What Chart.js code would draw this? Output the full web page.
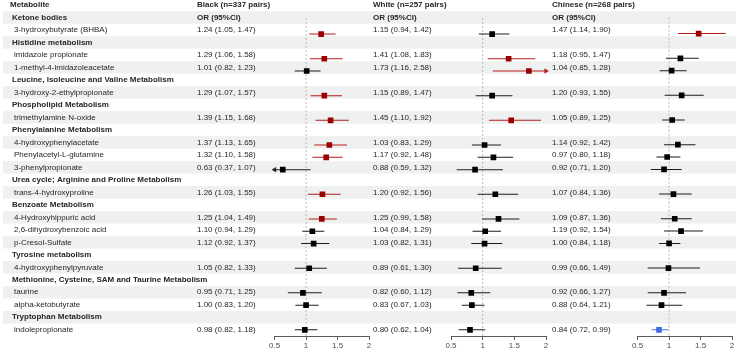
<!DOCTYPE html>
<html>
<head>
<meta charset="utf-8">
<script src="https://cdn.jsdelivr.net/npm/chart.js@4.4.1/dist/chart.umd.min.js"></script>
<style>
html,body{margin:0;padding:0;background:#ffffff;}
#wrap{position:relative;width:736px;height:350px;overflow:hidden;}
#wrap canvas{position:absolute;left:0;top:0;}
</style>
</head>
<body>
<div id="wrap">
  <canvas id="tbl" width="736" height="350" style="width:736px;height:350px"></canvas>
  <canvas id="pB" width="736" height="350" style="width:736px;height:350px"></canvas>
  <canvas id="pW" width="736" height="350" style="width:736px;height:350px"></canvas>
  <canvas id="pC" width="736" height="350" style="width:736px;height:350px"></canvas>
</div>
<script>
// ---------------- DATA ----------------
const rowLabels = [
  'Ketone bodies',
  '3-hydroxybutyrate (BHBA)',
  'Histidine metabolism',
  'imidazole propionate',
  '1-methyl-4-imidazoleacetate',
  'Leucine, Isoleucine and Valine Metabolism',
  '3-hydroxy-2-ethylpropionate',
  'Phospholipid Metabolism',
  'trimethylamine N-oxide',
  'Phenylalanine Metabolism',
  '4-hydroxyphenylacetate',
  'Phenylacetyl-L-glutamine',
  '3-phenylpropionate',
  'Urea cycle; Arginine and Proline Metabolism',
  'trans-4-hydroxyproline',
  'Benzoate Metabolism',
  '4-Hydroxyhippuric acid',
  '2,6-dihydroxybenzoic acid',
  'p-Cresol-Sulfate',
  'Tyrosine metabolism',
  '4-hydroxyphenylpyruvate',
  'Methionine, Cysteine, SAM and Taurine Metabolism',
  'taurine',
  'alpha-ketobutyrate',
  'Tryptophan Metabolism',
  'indolepropionate'
];
const rowIsGroup = [1,0,1,0,0,1,0,1,0,1,0,0,0,1,0,1,0,0,0,1,0,1,0,0,1,0];

const populations = ['Black (n=337 pairs)', 'White (n=257 pairs)', 'Chinese (n=268 pairs)'];
const columnTitle = 'OR (95%CI)';
const firstHeader = 'Metabolite';

const blackOR   = [1.24,1.29,1.01,1.29,1.39,1.37,1.32,0.63,1.26,1.25,1.10,1.12,1.05,0.95,1.00,0.98];
const blackLow  = [1.05,1.06,0.82,1.07,1.15,1.13,1.10,0.37,1.03,1.04,0.94,0.92,0.82,0.71,0.83,0.82];
const blackHigh = [1.47,1.58,1.23,1.57,1.68,1.65,1.58,1.07,1.55,1.49,1.29,1.37,1.33,1.25,1.20,1.18];

const whiteOR   = [1.15,1.41,1.73,1.15,1.45,1.03,1.17,0.88,1.20,1.25,1.04,1.03,0.89,0.82,0.83,0.80];
const whiteLow  = [0.94,1.08,1.16,0.89,1.10,0.83,0.92,0.59,0.92,0.99,0.84,0.82,0.61,0.60,0.67,0.62];
const whiteHigh = [1.42,1.83,2.58,1.47,1.92,1.29,1.48,1.32,1.56,1.58,1.29,1.31,1.30,1.12,1.03,1.04];

const chineseOR   = [1.47,1.18,1.04,1.20,1.05,1.14,0.97,0.92,1.07,1.09,1.19,1.00,0.99,0.92,0.88,0.84];
const chineseLow  = [1.14,0.95,0.85,0.93,0.89,0.92,0.80,0.71,0.84,0.87,0.92,0.84,0.66,0.66,0.64,0.72];
const chineseHigh = [1.90,1.47,1.28,1.55,1.25,1.42,1.18,1.20,1.36,1.36,1.54,1.18,1.49,1.27,1.21,0.99];

const xTicks = [0.5, 1, 1.5, 2];
const refValue = 1;

// ---------------- LAYOUT / STYLE ----------------
const W = 736, H = 350;
const FONT = "'Liberation Sans', Arial, Helvetica, sans-serif";
const AXIS_H = 14;
const Y_MIN = -0.4, Y_MAX = rowLabels.length + 0.5;
const stripeColor = '#eff1f1';
const textColor = '#262626';
const orColX = [197, 373, 552];
const panelPx = [[274.6, 369], [451, 546], [637.6, 732]];
const palette = {
  up:   {pt: '#990000', ln: '#b51c1c'},
  down: {pt: '#4169e1', ln: '#4f74e4'},
  ns:   {pt: '#000000', ln: '#1c1c1c'}
};
const series = [
  [blackOR, blackLow, blackHigh],
  [whiteOR, whiteLow, whiteHigh],
  [chineseOR, chineseLow, chineseHigh]
];

// row index (in the drawn table, 0 = header) of each metabolite
const itemRows = [];
rowIsGroup.forEach((g, i) => { if (!g) itemRows.push(i + 1); });

function sig(lo, hi) { return lo > refValue ? 'up' : (hi < refValue ? 'down' : 'ns'); }
function fmt(o, l, h) { return o.toFixed(2) + ' (' + l.toFixed(2) + ', ' + h.toFixed(2) + ')'; }

function yScaleCfg() {
  return {type: 'linear', display: false, min: Y_MIN, max: Y_MAX, reverse: true, offset: false,
          grace: 0, grid: {offset: false}};
}

// ---------------- TABLE CHART (stripes + text) ----------------
const tablePlugin = {
  id: 'tablePlugin',
  beforeDraw(chart) {
    const ctx = chart.ctx, ys = chart.scales.y;
    ctx.save();
    ctx.fillStyle = stripeColor;
    for (let r = 1; r <= rowLabels.length; r += 2) {
      const t = ys.getPixelForValue(r - 0.5), b = ys.getPixelForValue(r + 0.5);
      ctx.fillRect(3, t, W - 3, b - t);
    }
    ctx.restore();
  },
  afterDraw(chart) {
    const ctx = chart.ctx, ys = chart.scales.y;
    ctx.save();
    ctx.textBaseline = 'middle';
    ctx.textAlign = 'left';
    ctx.fillStyle = textColor;
    const bold = 'bold 8px ' + FONT, normal = '8px ' + FONT;
    ctx.font = bold;
    const y0 = ys.getPixelForValue(0);
    ctx.fillText(firstHeader, 10, y0);
    populations.forEach((p, k) => ctx.fillText(p, orColX[k], y0));
    const y1 = ys.getPixelForValue(1);
    orColX.forEach(x => ctx.fillText(columnTitle, x, y1));
    rowLabels.forEach((lab, i) => {
      const yy = ys.getPixelForValue(i + 1);
      if (rowIsGroup[i]) { ctx.font = bold; ctx.fillText(lab, 12, yy); }
      else { ctx.font = normal; ctx.fillText(lab, 14, yy); }
    });
    ctx.font = normal;
    series.forEach((s, k) => {
      itemRows.forEach((r, j) => {
        ctx.fillText(fmt(s[0][j], s[1][j], s[2][j]), orColX[k], ys.getPixelForValue(r));
      });
    });
    ctx.restore();
  }
};

new Chart(document.getElementById('tbl'), {
  type: 'scatter',
  data: {datasets: []},
  options: {
    responsive: false, animation: false, devicePixelRatio: 1,
    layout: {padding: {left: 0, right: 0, top: 0, bottom: AXIS_H}},
    plugins: {legend: {display: false}, tooltip: {enabled: false}},
    scales: {
      x: {type: 'linear', display: false, min: 0, max: 1},
      y: yScaleCfg()
    }
  },
  plugins: [tablePlugin]
});

// ---------------- PANEL CHARTS ----------------
function makePanel(id, s, px) {
  const [or, lo, hi] = s;
  const aMin = xTicks[0], aMax = xTicks[xTicks.length - 1];
  const cls = or.map((v, j) => sig(lo[j], hi[j]));
  const arrows = [], arrowCols = [], arrowRot = [];
  itemRows.forEach((r, j) => {
    if (lo[j] < aMin) { arrows.push({x: aMin, y: r}); arrowCols.push(palette[cls[j]].ln); arrowRot.push(270); }
    if (hi[j] > aMax) { arrows.push({x: aMax, y: r}); arrowCols.push(palette[cls[j]].ln); arrowRot.push(90); }
  });
  new Chart(document.getElementById(id), {
    type: 'scatter',
    data: {
      datasets: [
        {
          type: 'scatter', order: 0,
          data: itemRows.map((r, j) => ({x: or[j], y: r})),
          pointStyle: 'rect', pointRadius: 4, pointHoverRadius: 4,
          backgroundColor: cls.map(c => palette[c].pt), borderWidth: 0
        },
        {
          type: 'scatter', order: 1, clip: false,
          data: arrows,
          pointStyle: 'triangle', pointRadius: 2.6, rotation: arrowRot,
          backgroundColor: arrowCols, borderColor: arrowCols, borderWidth: 0.5
        },
        {
          type: 'bar', order: 2, indexAxis: 'y', clip: 0,
          data: itemRows.map((r, j) => ({y: r, x: [lo[j], hi[j]]})),
          backgroundColor: cls.map(c => palette[c].ln),
          barThickness: 1, borderWidth: 0, inflateAmount: 0
        },
        {
          type: 'line', order: 3,
          data: [{x: refValue, y: 1.5 - 0.8}, {x: refValue, y: Y_MAX}],
          borderColor: '#b8b8b8', borderWidth: 1, borderDash: [2, 2],
          pointRadius: 0, fill: false
        }
      ]
    },
    options: {
      responsive: false, animation: false, devicePixelRatio: 1,
      layout: {padding: {left: px[0], right: W - px[1], top: 0, bottom: 0}},
      plugins: {legend: {display: false}, tooltip: {enabled: false}},
      scales: {
        x: {
          type: 'linear', min: aMin, max: aMax, offset: false,
          afterBuildTicks: sc => { sc.ticks = xTicks.map(v => ({value: v})); },
          afterFit: sc => { sc.height = AXIS_H; },
          grid: {drawOnChartArea: false, drawTicks: true, tickLength: 4, color: '#5a5a5a', lineWidth: 1, offset: false},
          border: {display: true, color: '#5a5a5a', width: 1},
          ticks: {font: {family: FONT, size: 8}, color: '#4d4d4d', padding: 1, maxRotation: 0, autoSkip: false,
                  callback: v => String(v)}
        },
        y: yScaleCfg()
      }
    }
  });
}
makePanel('pB', series[0], panelPx[0]);
makePanel('pW', series[1], panelPx[1]);
makePanel('pC', series[2], panelPx[2]);
</script>
</body>
</html>
